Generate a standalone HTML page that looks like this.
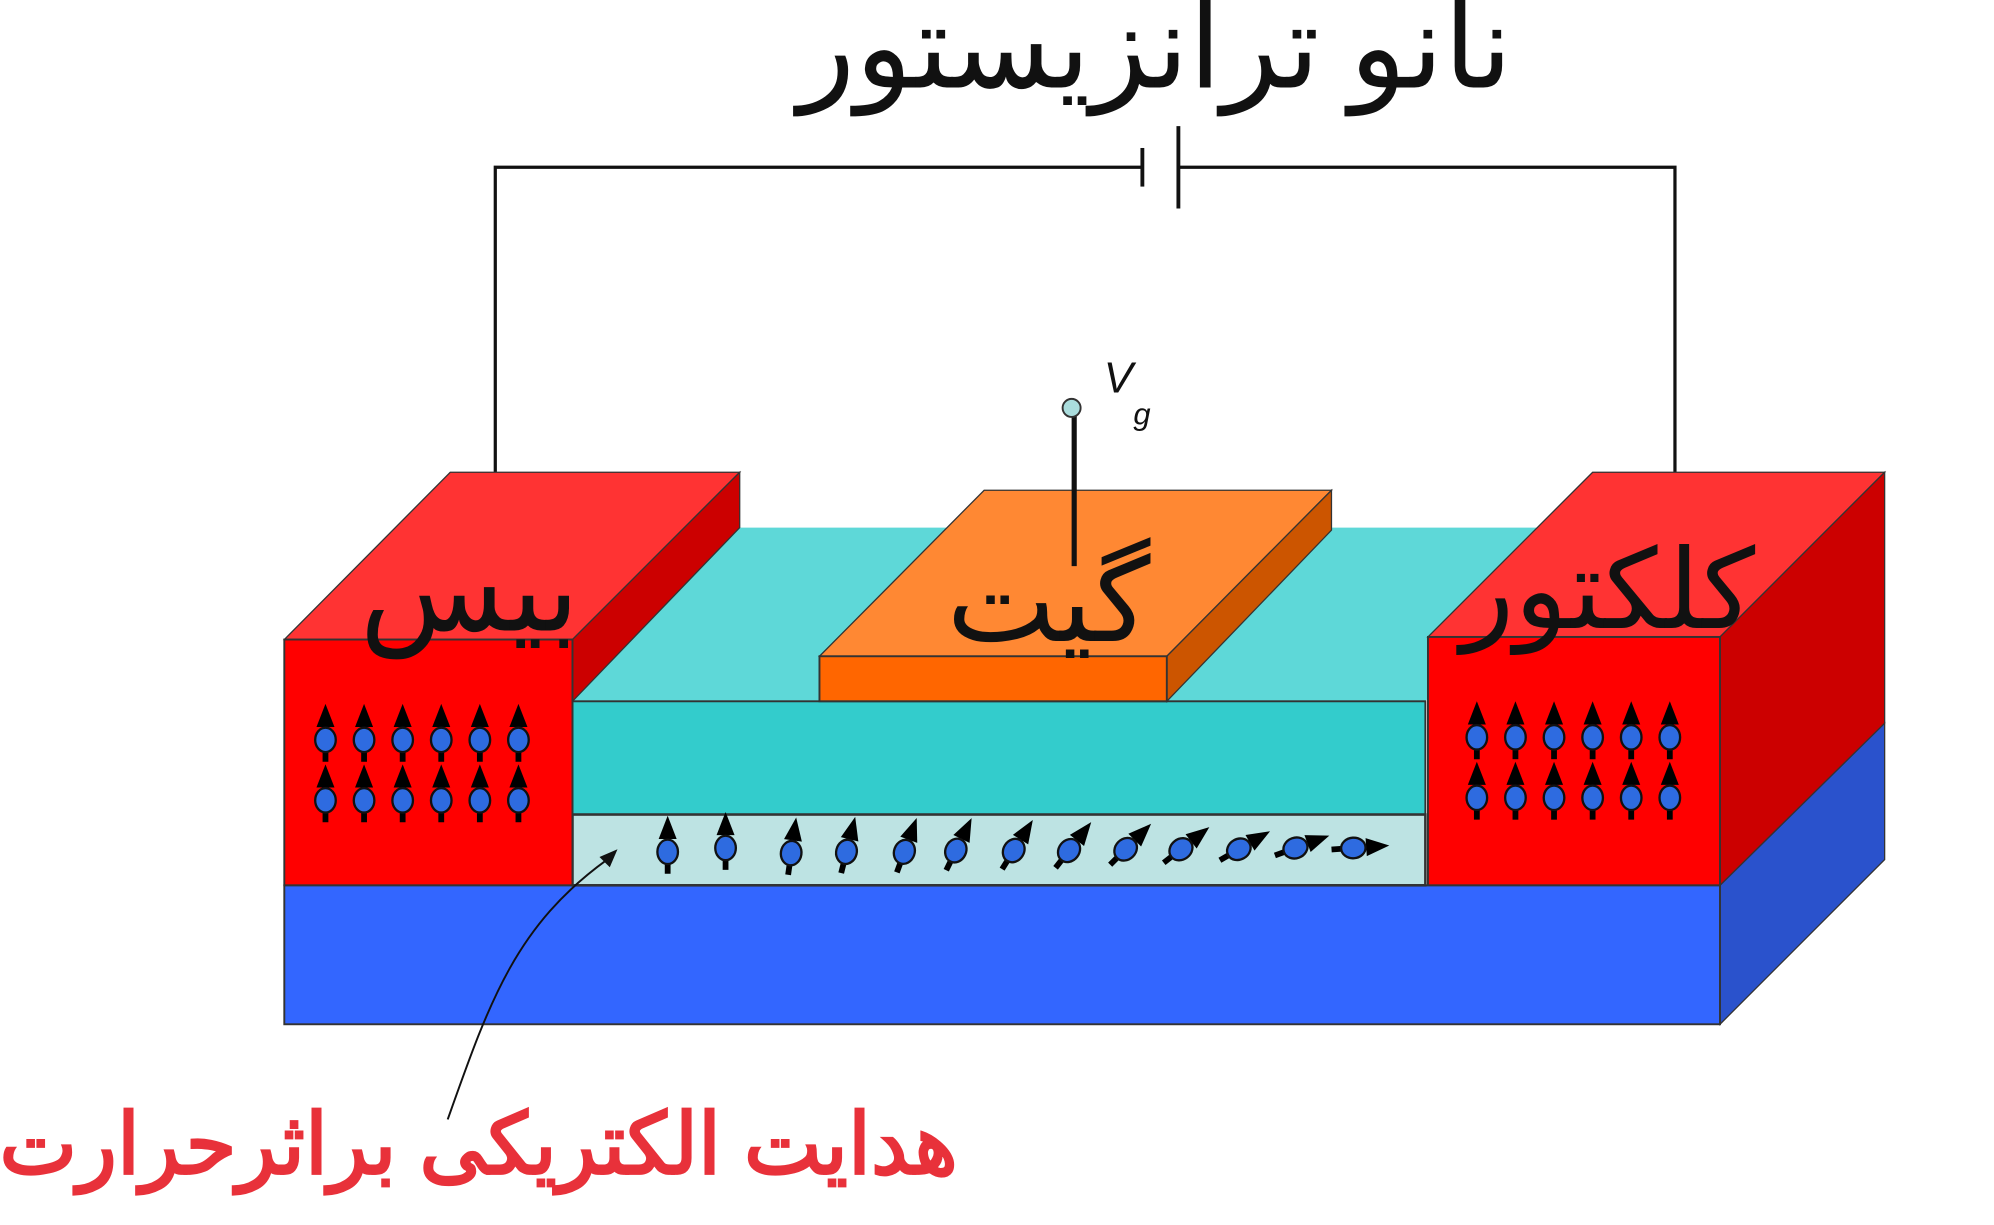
<!DOCTYPE html>
<html><head><meta charset="utf-8"><style>
html,body{margin:0;padding:0;background:#fff;}
svg{display:block;}
</style></head><body>
<svg width="1994" height="1225" viewBox="0 0 1550 952" preserveAspectRatio="none" xmlns="http://www.w3.org/2000/svg">
<defs>
<g id="sp">
<line x1="0" y1="17" x2="0" y2="-12" stroke="#000" stroke-width="4.5"/>
<polygon points="0,-28 -7,-10 7,-10" fill="#000"/>
<ellipse cx="0" cy="0" rx="8" ry="9.5" fill="#2e6be0" stroke="#111" stroke-width="1.8"/>
</g>
</defs>
<text x="898" y="68" font-family="'Liberation Serif','Noto Sans CJK SC',serif" font-size="92" fill="#111" text-anchor="middle" direction="rtl">نانو ترانزیستور</text>
<polyline points="385,425 385,130 888,130" fill="none" stroke="#111" stroke-width="2.5"/>
<polyline points="916,130 1302,130 1302,432" fill="none" stroke="#111" stroke-width="2.5"/>
<line x1="888" y1="115" x2="888" y2="145" stroke="#111" stroke-width="3"/>
<line x1="916" y1="98" x2="916" y2="162" stroke="#111" stroke-width="3"/>
<polygon points="1337,688 1465,562 1465,668 1337,796" fill="#2a52cc" stroke="#333" stroke-width="1"/>
<rect x="221" y="688" width="1116" height="108" fill="#3366ff" stroke="#333" stroke-width="1.5"/>
<polygon points="440,550 575,410 1240,410 1108,545" fill="#5ed8d8"/>
<rect x="445" y="545" width="663" height="88" fill="#33cccc" stroke="#333" stroke-width="1.5"/>
<rect x="445" y="633" width="663" height="55" fill="#bde3e3" stroke="#333" stroke-width="2"/>
<polygon points="221,497 350,367 575,367 445,497" fill="#ff3333" stroke="#333" stroke-width="1"/>
<polygon points="445,497 575,367 575,410 445,545" fill="#cc0000" stroke="#333" stroke-width="1"/>
<rect x="221" y="497" width="224" height="191" fill="#ff0000" stroke="#333" stroke-width="1.5"/>
<polygon points="1110,495 1238,367 1465,367 1337,495" fill="#ff3333" stroke="#333" stroke-width="1"/>
<polygon points="1337,495 1465,367 1465,562 1337,688" fill="#cc0000" stroke="#333" stroke-width="1"/>
<rect x="1110" y="495" width="227" height="193" fill="#ff0000" stroke="#333" stroke-width="1.5"/>
<polygon points="637,510 765,381 1035,381 907,510" fill="#ff8833" stroke="#333" stroke-width="1"/>
<polygon points="907,510 1035,381 1035,412 907,545" fill="#cc5500" stroke="#333" stroke-width="1"/>
<rect x="637" y="510" width="270" height="35" fill="#ff6600" stroke="#333" stroke-width="1.5"/>
<line x1="835" y1="323" x2="835" y2="440" stroke="#111" stroke-width="4"/>
<circle cx="833" cy="317" r="7" fill="#aadddd" stroke="#333" stroke-width="1.5"/>
<text x="858" y="305" font-family="'Liberation Sans',sans-serif" font-style="italic" font-size="34" fill="#111">V</text>
<text x="881" y="330" font-family="'Liberation Sans',sans-serif" font-style="italic" font-size="24" fill="#111">g</text>
<g>
<use href="#sp" x="253" y="575"/><use href="#sp" x="283" y="575"/><use href="#sp" x="313" y="575"/><use href="#sp" x="343" y="575"/><use href="#sp" x="373" y="575"/><use href="#sp" x="403" y="575"/>
<use href="#sp" x="253" y="622"/><use href="#sp" x="283" y="622"/><use href="#sp" x="313" y="622"/><use href="#sp" x="343" y="622"/><use href="#sp" x="373" y="622"/><use href="#sp" x="403" y="622"/>
<use href="#sp" x="1148" y="573"/><use href="#sp" x="1178" y="573"/><use href="#sp" x="1208" y="573"/><use href="#sp" x="1238" y="573"/><use href="#sp" x="1268" y="573"/><use href="#sp" x="1298" y="573"/>
<use href="#sp" x="1148" y="620"/><use href="#sp" x="1178" y="620"/><use href="#sp" x="1208" y="620"/><use href="#sp" x="1238" y="620"/><use href="#sp" x="1268" y="620"/><use href="#sp" x="1298" y="620"/>
</g>
<g>
<use href="#sp" transform="translate(519,662)"/>
<use href="#sp" transform="translate(564,659)"/>
<use href="#sp" transform="translate(615,663) rotate(8)"/>
<use href="#sp" transform="translate(658,662) rotate(14)"/>
<use href="#sp" transform="translate(703,662) rotate(20)"/>
<use href="#sp" transform="translate(743,661) rotate(26)"/>
<use href="#sp" transform="translate(788,661) rotate(32)"/>
<use href="#sp" transform="translate(831,661) rotate(38)"/>
<use href="#sp" transform="translate(875,660) rotate(45)"/>
<use href="#sp" transform="translate(918,660) rotate(52)"/>
<use href="#sp" transform="translate(963,660) rotate(60)"/>
<use href="#sp" transform="translate(1007,659) rotate(70)"/>
<use href="#sp" transform="translate(1052,659) rotate(86)"/>
</g>
<path d="M348,870 C380,780 400,720 472,668" fill="none" stroke="#111" stroke-width="1.5"/>
<polygon points="480,660 466,666 474,674" fill="#111"/>
<text x="365" y="490" font-family="'Liberation Serif','Noto Sans CJK SC',serif" font-size="92" fill="#111" text-anchor="middle" direction="rtl">بیس</text>
<text x="815" y="498" font-family="'Liberation Serif','Noto Sans CJK SC',serif" font-size="90" fill="#111" text-anchor="middle" direction="rtl">گیت</text>
<text x="1250" y="488" font-family="'Liberation Serif','Noto Sans CJK SC',serif" font-size="86" fill="#111" text-anchor="middle" direction="rtl">کلکتور</text>
<text x="372" y="912" font-family="'Liberation Sans','Noto Sans CJK SC',sans-serif" font-weight="bold" font-size="66" fill="#e8313a" text-anchor="middle" direction="rtl" textLength="745" lengthAdjust="spacingAndGlyphs">هدایت الکتریکی براثرحرارت</text>
</svg>
</body></html>
